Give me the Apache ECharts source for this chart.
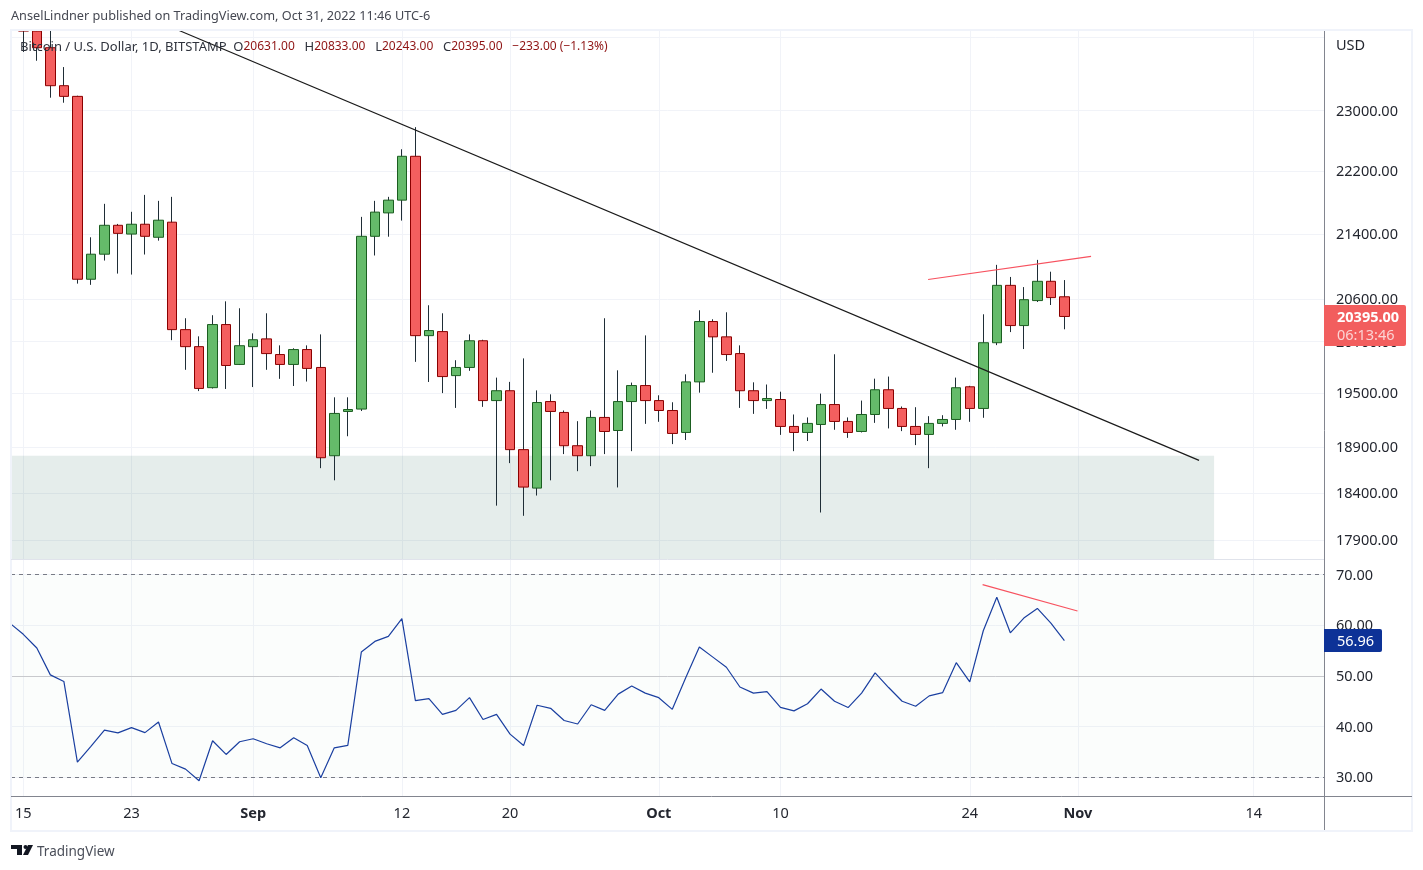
<!DOCTYPE html>
<html>
<head>
<meta charset="utf-8">
<style>
html, body { margin: 0; padding: 0; background: #fff; }
#chart { width: 1423px; height: 870px; }
</style>
<script src="https://cdn.jsdelivr.net/npm/echarts@6/dist/echarts.min.js"></script>
</head>
<body>
<div id="chart"></div>
<script>
var FONT = '"Noto Sans", sans-serif';
var AXIS_FONT_SIZE = 14.5;

// daily candles, first one is Aug 15 2022
var opens = [
    24300, 24092, 23859, 23336, 23191, 20843, 21150, 21510, 21400, 21523,
    21360, 21549, 20239, 20039, 19565, 20299, 19832, 20039, 20130, 19947,
    19832, 20005, 19797, 18803, 19295, 19322, 21372, 21666, 21828, 22394,
    20168, 20216, 19703, 19797, 20108, 19418, 19530, 18870, 18451, 19407,
    19284, 18913, 18803, 19228, 19082, 19407, 19589, 19418, 19306, 19060,
    19631, 20335, 20154, 19958, 19530, 19418, 19430, 19127, 19060, 19149,
    19373, 19183, 19071, 19261, 19541, 19329, 19127, 19038, 19161, 19205,
    19575, 19329, 20085, 20769, 20287, 20585, 20818, 20631
];
var closes = [
    24092, 23859, 23336, 23191, 20843, 21150, 21510, 21409, 21523, 21372,
    21574, 20239, 20039, 19556, 20299, 19820, 20050, 20120, 19958, 19832,
    20005, 19786, 18781, 19273, 19317, 21372, 21676, 21828, 22394, 20168,
    20228, 19692, 19797, 20108, 19418, 19530, 18870, 18462, 19396, 19295,
    18913, 18803, 19228, 19071, 19407, 19589, 19418, 19306, 19049, 19631,
    20335, 20154, 19947, 19530, 19418, 19441, 19127, 19060, 19161, 19373,
    19183, 19060, 19261, 19541, 19329, 19127, 19038, 19161, 19205, 19564,
    19329, 20085, 20769, 20287, 20596, 20818, 20621, 20395
];
var lows = [
    23800, 23678, 23173, 23105, 20790, 20775, 21072, 20912, 20900, 21146,
    21318, 20115, 19770, 19526, 19555, 19550, 19825, 19572, 19770, 19666,
    19584, 19635, 18667, 18535, 19018, 19300, 21134, 21367, 21569, 19862,
    19630, 19503, 19335, 19758, 19347, 18263, 18722, 18155, 18371, 18535,
    18821, 18634, 18689, 18821, 18458, 18853, 19156, 19179, 18931, 18976,
    19508, 19736, 19873, 19335, 19268, 19324, 19033, 18853, 18965, 18190,
    19090, 19000, 19060, 19167, 19105, 19075, 18920, 18667, 19127, 19090,
    19179, 19224, 20057, 20210, 20011, 20568, 20532, 20243
];
var highs = [
    24500, 24200, 24150, 23591, 23200, 21360, 21781, 21527, 21680, 21895,
    21819, 21870, 20374, 20160, 20410, 20576, 20493, 20195, 20433, 20054,
    20020, 20054, 20183, 19455, 19455, 21616, 21819, 21870, 22486, 22778,
    20529, 20433, 19881, 20183, 20120, 19680, 19631, 19902, 19534, 19489,
    19306, 19186, 19306, 20374, 19764, 19623, 20171, 19478, 19399, 19718,
    20469, 20362, 20445, 20054, 19626, 19601, 19519, 19261, 19228, 19497,
    19950, 19228, 19418, 19668, 19692, 19351, 19343, 19242, 19253, 19680,
    19586, 20421, 21019, 20871, 20748, 21080, 20935, 20833
];
// rsi starts one day before the first candle (Aug 14)
var rsiValues = [
    60.4, 58.2, 55.5, 50.2, 48.9, 33.0, 36.1, 39.3, 38.75, 39.8,
    38.8, 40.9, 32.7, 31.6, 29.3, 37.2, 34.5, 37.0, 37.6, 36.6,
    35.8, 37.8, 36.25, 29.9, 35.8, 36.3, 54.7, 56.8, 57.8, 61.3,
    45.1, 45.5, 42.4, 43.2, 45.7, 41.4, 42.4, 38.5, 36.25, 44.2,
    43.6, 41.2, 40.5, 44.3, 43.2, 46.4, 48.0, 46.6, 45.7, 43.4,
    49.7, 55.7, 53.7, 51.7, 47.8, 46.6, 46.9, 43.8, 43.1, 44.5,
    47.4, 45.0, 43.75, 46.6, 50.6, 47.7, 45.0, 44.0, 46.05, 46.7,
    52.6, 48.8, 58.9, 65.5, 58.5, 61.4, 63.3, 60.4, 56.96
];

// time axis ticks, in days after Aug 15
var tickDays = [0, 8, 17, 28, 36, 47, 56, 70, 78, 91];
var tickLabels = ['15', '23', 'Sep', '12', '20', 'Oct', '10', '24', 'Nov', '14'];
var boldLabels = ['Sep', 'Oct', 'Nov'];

var priceTicks = [24000, 23000, 22200, 21400, 20600, 20100, 19500, 18900, 18400, 17900];
var rsiTicks = [30, 40, 50, 60, 70];

// drawings on the chart, [day, value]
var trendLine = [[11.44, 24107], [86.96, 18752]];
var priceHighsLine = [[66.92, 20840], [78.97, 21123]];
var rsiHighsLine = [[70.95, 68.0], [77.97, 62.8]];
var supportZone = { fromDay: -0.91, toDay: 88.07, top: 18803, bottom: 17703 };

var dayMin = -0.91, dayMax = 96.2;
var priceMin = 17703, priceMax = 24107;
var rsiMin = 26.3, rsiMax = 73.06;

var wickData = opens.map(function (o, i) {
    return [i, o, closes[i], lows[i], highs[i]];
});
var bodyData = opens.map(function (o, i) {
    return [i, o, closes[i], Math.min(o, closes[i]), Math.max(o, closes[i])];
});
var rsiData = rsiValues.map(function (v, i) {
    return [i - 1, v];
});

var GRID_LINE = '#f1f3f8';
var TEXT = '#23262f';
var AXIS_LINE = '#82858f';

// rich style that drops the value labels by a pixel
var valueRich = {
    v: { fontFamily: FONT, fontSize: AXIS_FONT_SIZE, color: TEXT, padding: [2, 0, 0, 0] }
};

function timeAxis(gridIndex, showLabels) {
    return {
        type: 'value',
        gridIndex: gridIndex,
        min: dayMin,
        max: dayMax,
        axisLine: { show: false },
        axisTick: { show: false, customValues: tickDays },
        splitLine: { show: true, lineStyle: { color: GRID_LINE, width: 1 } },
        axisLabel: {
            show: showLabels,
            customValues: tickDays,
            margin: 10,
            fontFamily: FONT,
            fontSize: AXIS_FONT_SIZE,
            color: TEXT,
            formatter: function (v) {
                var label = tickLabels[tickDays.indexOf(v)];
                return boldLabels.indexOf(label) >= 0 ? '{b|' + label + '}' : label;
            },
            rich: { b: { fontFamily: FONT, fontSize: AXIS_FONT_SIZE, fontWeight: 'bold', color: TEXT } }
        }
    };
}

function drawing(name, data, color, xIndex, yIndex) {
    return {
        name: name,
        type: 'line',
        xAxisIndex: xIndex,
        yAxisIndex: yIndex,
        data: data,
        symbol: 'none',
        silent: true,
        z: 6,
        lineStyle: { color: color, width: 1.2 }
    };
}

var chart = echarts.init(document.getElementById('chart'));

chart.setOption({
    animation: false,
    backgroundColor: '#ffffff',
    grid: [
        { left: 11, top: 30, width: 1313, height: 529 },
        { left: 11, top: 559, width: 1313, height: 237 }
    ],
    xAxis: [timeAxis(0, false), timeAxis(1, true)],
    yAxis: [
        {
            type: 'log',
            gridIndex: 0,
            position: 'right',
            min: priceMin,
            max: priceMax,
            axisLine: { show: false },
            axisTick: { show: false, customValues: priceTicks },
            splitLine: { show: true, lineStyle: { color: GRID_LINE, width: 1 } },
            axisLabel: {
                customValues: priceTicks,
                margin: 12,
                rich: valueRich,
                formatter: function (v) {
                    return Math.round(v) === 24000 ? '' : '{v|' + Number(v).toFixed(2) + '}';
                }
            }
        },
        {
            type: 'value',
            gridIndex: 1,
            position: 'right',
            min: rsiMin,
            max: rsiMax,
            axisLine: { show: false },
            axisTick: { show: false, customValues: rsiTicks },
            splitLine: { show: true, lineStyle: { color: GRID_LINE, width: 1 } },
            axisLabel: {
                customValues: rsiTicks,
                margin: 12,
                rich: valueRich,
                formatter: function (v) { return '{v|' + v.toFixed(2) + '}'; }
            }
        }
    ],
    series: [
        {
            name: 'wicks',
            type: 'candlestick',
            xAxisIndex: 0,
            yAxisIndex: 0,
            encode: { x: 0, y: [1, 2, 3, 4] },
            data: wickData,
            barWidth: 1,
            silent: true,
            z: 2,
            itemStyle: {
                color: '#1f2d36', color0: '#1f2d36',
                borderColor: '#1f2d36', borderColor0: '#1f2d36', borderWidth: 1
            }
        },
        {
            name: 'BTCUSD',
            type: 'candlestick',
            xAxisIndex: 0,
            yAxisIndex: 0,
            encode: { x: 0, y: [1, 2, 3, 4] },
            data: bodyData,
            barWidth: 10,
            silent: true,
            z: 3,
            itemStyle: {
                color: '#65bb6a', color0: '#f45f5f',
                borderColor: '#1b5e20', borderColor0: '#8b0000', borderWidth: 1
            }
        },
        {
            name: 'support zone',
            type: 'line',
            xAxisIndex: 0,
            yAxisIndex: 0,
            data: [],
            silent: true,
            z: 4,
            markArea: {
                silent: true,
                itemStyle: { color: 'rgba(22, 88, 72, 0.11)' },
                data: [[
                    { coord: [supportZone.fromDay, supportZone.top] },
                    { coord: [supportZone.toDay, supportZone.bottom] }
                ]]
            }
        },
        drawing('trend', trendLine, '#1a1a1a', 0, 0),
        drawing('price highs', priceHighsLine, '#f7525f', 0, 0),
        {
            name: 'RSI',
            type: 'line',
            xAxisIndex: 1,
            yAxisIndex: 1,
            data: rsiData,
            symbol: 'none',
            silent: true,
            z: 5,
            lineStyle: { color: '#1a3fa0', width: 1.2 },
            markArea: {
                silent: true,
                itemStyle: { color: 'rgba(60, 140, 110, 0.02)' },
                data: [[
                    { coord: [dayMin, 70] },
                    { coord: [dayMax, 30] }
                ]]
            },
            markLine: {
                silent: true,
                symbol: 'none',
                label: { show: false },
                data: [
                    { yAxis: 70, lineStyle: { color: '#787b86', type: [4, 4], width: 1 } },
                    { yAxis: 50, lineStyle: { color: '#c8c9cd', type: 'solid', width: 1 } },
                    { yAxis: 30, lineStyle: { color: '#787b86', type: [4, 4], width: 1 } }
                ]
            }
        },
        drawing('rsi highs', rsiHighsLine, '#f7525f', 1, 1)
    ],
    graphic: [
        // candles poking above the pane are hidden by this
        { type: 'rect', silent: true, z: 15, shape: { x: 0, y: 0, width: 1423, height: 30 }, style: { fill: '#ffffff' } },

        // frame and pane separators
        { type: 'rect', silent: true, z: 20, shape: { x: 11, y: 30, width: 1401, height: 801 }, style: { fill: 'none', stroke: '#f0f3fa', lineWidth: 2 } },
        { type: 'line', silent: true, z: 20, shape: { x1: 11, y1: 559.5, x2: 1324, y2: 559.5 }, style: { stroke: '#e0e3eb', lineWidth: 1 } },
        { type: 'line', silent: true, z: 20, shape: { x1: 11, y1: 796.5, x2: 1412, y2: 796.5 }, style: { stroke: AXIS_LINE, lineWidth: 1 } },
        { type: 'line', silent: true, z: 20, shape: { x1: 1324.5, y1: 31, x2: 1324.5, y2: 830 }, style: { stroke: AXIS_LINE, lineWidth: 1 } },

        // header texts
        { type: 'text', silent: true, z: 30, style: { x: 11, y: 16.5, verticalAlign: 'middle', text: 'AnselLindner published on TradingView.com, Oct 31, 2022 11:46 UTC-6', font: '12.7px ' + FONT, fill: '#454852' } },
        {
            type: 'text', silent: true, z: 30,
            style: {
                x: 20, y: 47, verticalAlign: 'middle',
                text: 'Bitcoin / U.S. Dollar, 1D, BITSTAMP  O{r|20631.00}  H{r|20833.00}  L{r|20243.00}  C{r|20395.00}  {r|\u2212233.00 (\u22121.13%)}',
                font: '13px ' + FONT, fill: '#2e323c',
                rich: { r: { font: '12px ' + FONT, fill: '#8f1414', padding: [0, 3, 0, 0] } }
            }
        },
        { type: 'text', silent: true, z: 30, style: { x: 1336, y: 46, verticalAlign: 'middle', text: 'USD', font: AXIS_FONT_SIZE + 'px ' + FONT, fill: TEXT } },

        // last price badges
        { type: 'rect', silent: true, z: 30, shape: { x: 1324, y: 305, width: 82, height: 41, r: [0, 2, 2, 0] }, style: { fill: '#f25e5e' } },
        { type: 'text', silent: true, z: 31, style: { x: 1337, y: 318, verticalAlign: 'middle', text: '20395.00', font: 'bold ' + AXIS_FONT_SIZE + 'px ' + FONT, fill: '#ffffff' } },
        { type: 'text', silent: true, z: 31, style: { x: 1337, y: 336, verticalAlign: 'middle', text: '06:13:46', font: AXIS_FONT_SIZE + 'px ' + FONT, fill: '#fbd4d4' } },
        { type: 'rect', silent: true, z: 30, shape: { x: 1324, y: 629, width: 58, height: 23, r: [0, 2, 2, 0] }, style: { fill: '#0d3297' } },
        { type: 'text', silent: true, z: 31, style: { x: 1337, y: 642, verticalAlign: 'middle', text: '56.96', font: AXIS_FONT_SIZE + 'px ' + FONT, fill: '#ffffff' } },

        // footer logo
        { type: 'polygon', silent: true, z: 30, shape: { points: [[11, 845], [22, 845], [22, 855], [17, 855], [17, 849], [11, 849]] }, style: { fill: '#131722' } },
        { type: 'circle', silent: true, z: 30, shape: { cx: 25.5, cy: 847, r: 2 }, style: { fill: '#131722' } },
        { type: 'polygon', silent: true, z: 30, shape: { points: [[28, 845], [33, 845], [28, 855], [23, 855]] }, style: { fill: '#131722' } },
        { type: 'text', silent: true, z: 30, style: { x: 37, y: 852, verticalAlign: 'middle', text: 'TradingView', font: '13.5px ' + FONT, fill: '#4a4e59' } }
    ]
});
</script>
</body>
</html>
